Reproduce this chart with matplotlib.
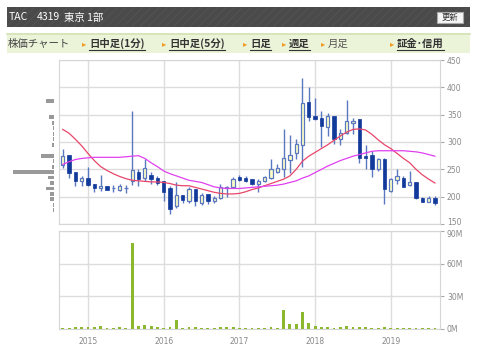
import matplotlib
matplotlib.use('Agg')
import matplotlib.pyplot as plt
from matplotlib.patches import Rectangle
from matplotlib.lines import Line2D
from matplotlib.transforms import ScaledTranslation

# monthly candles, Sep 2014 .. Aug 2019
start_year, start_month = 2014, 9
opens = [258, 276, 246, 229, 235, 223, 215, 219, 215, 213, 215, 229,
         246, 234, 240, 234, 229, 215, 183, 203, 192, 214, 188, 205,
         192, 197, 215, 217, 236, 235, 232, 223, 228, 235, 246, 251,
         267, 279, 294, 373, 348, 344, 327, 348, 306, 317, 335, 342,
         275, 276, 250, 268, 211, 230, 235, 221, 226, 197, 191, 198]
highs = [288, 276, 246, 238, 255, 223, 239, 219, 222, 223, 222, 357,
         250, 268, 246, 238, 229, 220, 226, 203, 218, 214, 206, 205,
         201, 224, 219, 236, 239, 238, 232, 232, 238, 268, 260, 323,
         312, 305, 417, 400, 380, 356, 353, 348, 323, 376, 344, 342,
         295, 283, 271, 271, 235, 250, 238, 247, 226, 200, 201, 202]
lows = [253, 235, 220, 220, 220, 209, 211, 213, 209, 211, 206, 222,
        220, 229, 224, 222, 192, 168, 179, 189, 189, 183, 185, 186,
        189, 195, 200, 215, 228, 226, 221, 208, 227, 232, 244, 236,
        244, 268, 254, 338, 340, 290, 311, 297, 294, 314, 315, 262,
        250, 236, 247, 186, 208, 224, 218, 220, 195, 190, 190, 185]
closes = [274, 243, 229, 234, 222, 215, 219, 213, 216, 219, 215, 248,
          232, 253, 232, 225, 209, 177, 203, 194, 214, 192, 203, 192,
          198, 217, 217, 232, 230, 229, 223, 229, 236, 250, 253, 271,
          277, 296, 372, 346, 342, 329, 348, 306, 317, 338, 339, 271,
          271, 250, 268, 214, 232, 238, 218, 227, 197, 191, 197, 189]
ma_short = [323, 316, 305, 293, 279, 266, 255, 248, 242, 237, 233, 230,
            229, 228, 227, 227, 226, 224, 221, 220, 220, 217, 214, 211,
            208, 206, 205, 205, 206, 209, 213, 216, 220, 224, 228, 232,
            238, 250, 265, 274, 281, 288, 295, 303, 311, 318, 323, 324,
            322, 314, 304, 295, 288, 279, 270, 262, 250, 240, 232, 225]
ma_long = [259, 264, 268, 270, 271, 272, 272, 272, 272, 272, 273, 274,
           275, 270, 262, 255, 247, 242, 238, 234, 230, 228, 226, 222,
           218, 216, 215, 215, 215, 216, 217, 218, 219, 220, 221, 223,
           226, 229, 234, 238, 244, 250, 256, 261, 266, 270, 274, 277,
           280, 283, 284, 284, 284, 284, 284, 283, 282, 280, 277, 274]
volumes_m = [1.2, 1.2, 1.5, 1.5, 1.5, 1.5, 2.4, 0.9, 0.9, 1.5, 1.2, 79,
             2.4, 3.4, 2.4, 1.5, 1.2, 1.5, 8, 0.9, 1.5, 1.5, 0.9, 0.9,
             0.9, 1.5, 1.5, 1.5, 1.2, 0.9, 0.6, 0.9, 0.9, 1.5, 0.6, 17,
             4.6, 4.6, 16, 5.8, 2.8, 2.1, 1.5, 1.2, 1.5, 3.1, 1.8, 2.1,
             1.5, 0.9, 0.9, 1.5, 0.6, 0.9, 0.9, 0.9, 0.9, 0.9, 0.6, 0.6]

# volume by price (left side histogram)
vbp_price = [375, 345, 335, 325, 315, 305, 295, 275, 265, 255, 245, 235,
             225, 215, 205, 195, 185, 175]
vbp_volume = [8.6, 5.3, 2.6, 1.6, 1.3, 1.3, 2.6, 13.3, 1.3, 2.6, 41.3, 6.6,
              4.0, 8.0, 4.6, 4.0, 1.6, 1.3]

price_ticks = [150, 200, 250, 300, 350, 400, 450]
vol_ticks = [0, 30, 60, 90]
vol_tick_labels = ['0M', '30M', '60M', '90M']
years = [2015, 2016, 2017, 2018, 2019]

W, H = 480, 357
UP_FILL = '#ffffc8'
UP_EDGE = '#5a78c0'
DOWN = '#123a9a'
WICK = '#5a78c0'
GRID = '#dddddd'
TICK = '#888888'


def fig_rect(x0, y0, x1, y1):
    # pixel box (top-left origin) -> figure fraction [l, b, w, h]
    return [x0 / W, 1 - y1 / H, (x1 - x0) / W, (y1 - y0) / H]


plt.rcParams['hatch.linewidth'] = 0.6
jp = ['Noto Sans CJK JP', 'DejaVu Sans']

fig = plt.figure(figsize=(W / 100, H / 100), dpi=100)
fig.patch.set_facecolor('white')

# header bar
hdr = fig.add_axes([0, 0, 1, 1], zorder=-1)
hdr.set_xlim(0, W)
hdr.set_ylim(H, 0)
hdr.axis('off')
hdr.add_patch(Rectangle((7, 7), 463, 20, facecolor='#4a4a4a', edgecolor='#555555',
                        hatch='////', linewidth=0))
hdr.text(9, 17.5, 'TAC', color='white', fontsize=7.5, family=jp, va='center')
hdr.text(37, 17.5, '4319', color='white', fontsize=7.5, family=jp, va='center')
hdr.text(64, 17.5, '東京 1部', color='white', fontsize=7.5, family=jp, va='center')
hdr.add_patch(Rectangle((437, 12), 26, 11, facecolor='#f6f6f6', edgecolor='#aaaaaa',
                        linewidth=0.8))
hdr.text(450, 17.5, '更新', color='#333333', fontsize=6, family=jp,
         va='center', ha='center')

# menu row
hdr.add_patch(Rectangle((7, 33), 463, 20, facecolor='#ebf3d9', edgecolor='none'))
hdr.add_line(Line2D([7, 470], [33.5, 33.5], color='#d3e3b5', linewidth=1.2))
hdr.text(8, 43.5, '株価チャート', color='#444444', fontsize=7.5, family=jp, va='center')
menu = [('日中足(1分)', 89, True), ('日中足(5分)', 169, True), ('日足', 250, True),
        ('週足', 289, True), ('月足', 328, False), ('証金･信用', 397, True)]
fig.canvas.draw()
renderer = fig.canvas.get_renderer()
for label, x, link in menu:
    hdr.text(x - 7, 43.5, '▸', color='#f09a20', fontsize=6, family='DejaVu Sans',
             va='center')
    t = hdr.text(x, 43.5, label, color='#333333' if link else '#555555', fontsize=7.5,
                 family=jp, va='center', fontweight='bold' if link else 'normal')
    if link:
        bb = t.get_window_extent(renderer=renderer)
        hdr.add_line(Line2D([bb.x0 * W / fig.bbox.width, bb.x1 * W / fig.bbox.width],
                            [49.5, 49.5], color='#333333', linewidth=0.8))

# price panel
ax = fig.add_axes(fig_rect(59, 60, 440, 224))
xs = list(range(len(opens)))
for i in xs:
    o, c = opens[i], closes[i]
    ax.vlines(i, lows[i], highs[i], color=WICK, linewidth=1, zorder=2)
    body = max(abs(c - o), 1.5)
    if c >= o:
        ax.bar(i, body, bottom=min(o, c), width=0.52, color=UP_FILL,
               edgecolor=UP_EDGE, linewidth=0.9, zorder=3)
    else:
        ax.bar(i, body, bottom=min(o, c), width=0.52, color=DOWN,
               edgecolor=DOWN, linewidth=0.5, zorder=3)
ax.plot(xs, ma_short, color='#e8456a', linewidth=0.9, zorder=4)
ax.plot(xs, ma_long, color='#e040f0', linewidth=0.9, zorder=4)
ax.set_ylim(150, 450)
ax.set_xlim(-0.6, 59.8)

year_pos = [(y - start_year) * 12 + 1 - start_month for y in years]
ax.set_xticks(year_pos)
ax.set_xticklabels([])
ax.tick_params(axis='x', length=0)
ax.set_yticks(price_ticks)
ax.yaxis.tick_right()
ax.tick_params(axis='y', length=3, color='#aaaaaa', labelsize=5.5, labelcolor=TICK, pad=2)
ax.grid(True, color=GRID, linewidth=1)
ax.set_axisbelow(True)
for s in ax.spines.values():
    s.set_color('#d6d6d6')

# volume by price
vbp = fig.add_axes(fig_rect(10, 60, 54.3, 224))
vbp.barh(vbp_price, vbp_volume, height=7, color='#999999')
vbp.set_xlim(44.3, 0)
vbp.set_ylim(150, 450)
vbp.axis('off')

# volume panel
vax = fig.add_axes(fig_rect(59, 231, 440, 329))
vax.bar(xs, volumes_m, width=0.45, color='#8cb830', zorder=3)
vax.set_ylim(0, 90)
vax.set_xlim(-0.6, 59.8)
vax.set_yticks(vol_ticks)
vax.set_yticklabels(vol_tick_labels)
vax.yaxis.tick_right()
vax.tick_params(axis='y', length=3, color='#aaaaaa', labelsize=5.5, labelcolor=TICK, pad=2)
vax.set_xticks(year_pos)
vax.set_xticklabels([str(y) for y in years])
vax.tick_params(axis='x', length=0, labelsize=5.5, labelcolor=TICK, pad=6)
vax.grid(True, color=GRID, linewidth=1)
vax.set_axisbelow(True)
for s in vax.spines.values():
    s.set_color('#d6d6d6')

# keep the bottom price label and the top volume label apart
ax.yaxis.get_major_ticks()[0].label2.set_transform(
    ax.yaxis.get_major_ticks()[0].label2.get_transform()
    + ScaledTranslation(0, 1.6 / 72, fig.dpi_scale_trans))
vax.yaxis.get_major_ticks()[-1].label2.set_transform(
    vax.yaxis.get_major_ticks()[-1].label2.get_transform()
    + ScaledTranslation(0, -1.6 / 72, fig.dpi_scale_trans))

fig.savefig('out.png', dpi=100)
